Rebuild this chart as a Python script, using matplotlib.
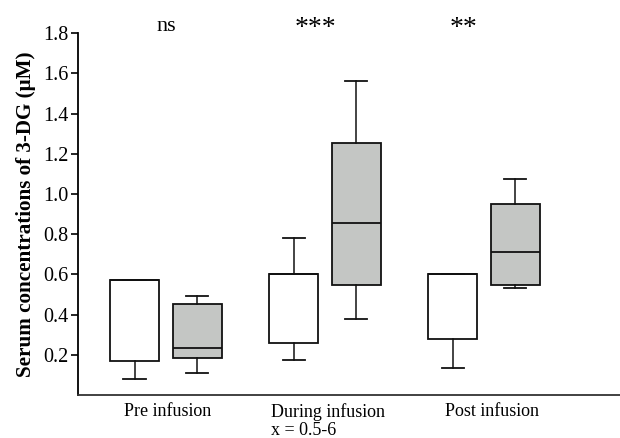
import numpy as np
import matplotlib
matplotlib.use("Agg")
import matplotlib.pyplot as plt

# data (serum 3-DG, uM)
groups = ["Pre infusion", "During infusion\nx = 0.5-6", "Post infusion"]
signif = ["ns", "***", "**"]

# white boxes (first box of each group)
w_low = [0.08, 0.175, 0.135]
w_q1 = [0.17, 0.26, 0.28]
w_med = [0.57, 0.60, 0.60]
w_q3 = [0.57, 0.60, 0.60]
w_high = [0.57, 0.78, 0.60]

# grey boxes (second box of each group)
g_low = [0.107, 0.38, 0.533]
g_q1 = [0.184, 0.549, 0.549]
g_med = [0.232, 0.855, 0.71]
g_q3 = [0.453, 1.256, 0.951]
g_high = [0.494, 1.562, 1.077]

plt.rcParams['font.family'] = ['Liberation Serif', 'DejaVu Serif']

fig = plt.figure(figsize=(6.2, 4.38), dpi=100)
ax = fig.add_axes([0.1258, 0.0982, 0.8742, 0.8258])

def stats(low, q1, med, q3, high):
    out = []
    for i in range(len(low)):
        out.append(dict(whislo=low[i], q1=q1[i], med=med[i], q3=q3[i], whishi=high[i], fliers=[]))
    return out

x = np.arange(len(groups))
off = 0.197
bw = 0.31
cw = 0.14

common = dict(widths=bw, capwidths=cw, showfliers=False, patch_artist=True,
              whiskerprops=dict(color="#111111", lw=1.1),
              capprops=dict(color="#111111", lw=1.3),
              medianprops=dict(color="#111111", lw=1.3))

ax.bxp(stats(w_low, w_q1, w_med, w_q3, w_high), positions=x - off,
       boxprops=dict(facecolor="white", edgecolor="#111111", lw=1.3), **common)
ax.bxp(stats(g_low, g_q1, g_med, g_q3, g_high), positions=x + off,
       boxprops=dict(facecolor="#c4c6c4", edgecolor="#111111", lw=1.3), **common)

ax.set_xlim(-0.553, 2.855)
ax.set_ylim(0, 1.8)
ax.set_yticks([0.2, 0.4, 0.6, 0.8, 1.0, 1.2, 1.4, 1.6, 1.8])
ax.set_yticklabels(["%.1f" % v for v in ax.get_yticks()], fontsize=14.5)
ax.set_xticks(x + np.array([0.01, 0.02, 0.05]))
ax.set_xticklabels(groups, fontsize=13, multialignment="left", linespacing=1.05)
ax.tick_params(axis="x", length=0, pad=6)
ax.tick_params(axis="y", length=5, width=1.2, direction="out", pad=2)

ax.spines["top"].set_visible(False)
ax.spines["right"].set_visible(False)
ax.spines["left"].set_linewidth(1.3)
ax.spines["bottom"].set_linewidth(1.3)
ax.spines["bottom"].set_color("#333333")

ax.set_ylabel("Serum concentrations of 3-DG (\u03bcM)", fontsize=15.2, fontweight="bold", labelpad=5)

# significance marks above each group
sx = [0.0, 0.94, 1.87]
sy = [1.835, 1.825, 1.825]
ssize = [16, 20, 20]
for i in range(len(signif)):
    ax.text(sx[i], sy[i], signif[i], ha="center", va="center", fontsize=ssize[i], clip_on=False)

fig.savefig("out.png", dpi=100)
